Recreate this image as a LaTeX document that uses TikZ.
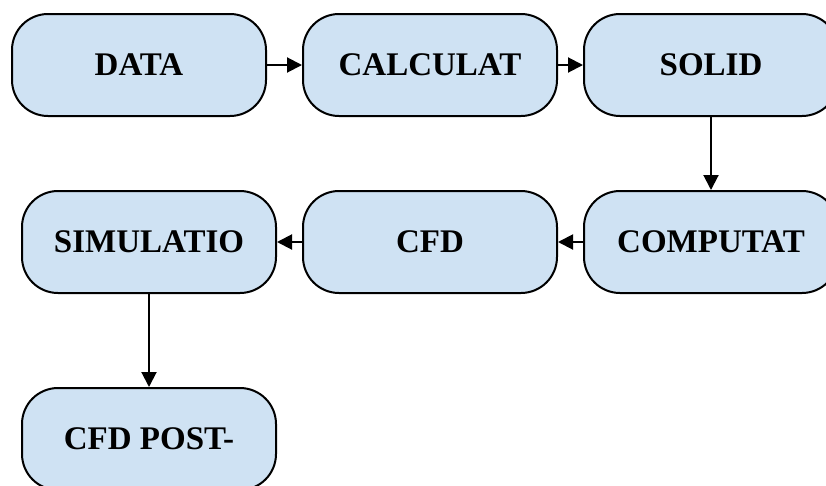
\documentclass[tikz,border=0pt]{standalone}
\usepackage{fontspec}
\setmainfont{Liberation Serif}
\usetikzlibrary{arrows.meta}
\definecolor{boxfill}{RGB}{207,226,243}
\begin{document}
\begin{tikzpicture}[x=1pt,y=-1pt,
  flowbox/.style={draw=black, line width=2pt, fill=boxfill, rounded corners=36pt,
    minimum width=254pt, minimum height=102pt, inner sep=0pt,
    font=\fontsize{33}{38}\selectfont\bfseries},
  flowarrow/.style={draw=black, line width=2pt, -{Triangle[length=15pt,width=15pt]}}]
\useasboundingbox (0,0) rectangle (826,485);
\clip (0,0) rectangle (826,485);
\node[flowbox] (data) at (139,65) {DATA};
\node[flowbox] (calc) at (430,65) {CALCULAT};
\node[flowbox] (solid) at (711,65) {SOLID};
\node[flowbox] (comp) at (711,242) {COMPUTAT};
\node[flowbox] (cfd) at (430,242) {CFD};
\node[flowbox] (sim) at (149,242) {SIMULATIO};
\node[flowbox] (post) at (149,439) {CFD POST-};
\draw[flowarrow] (data.east) -- (calc.west);
\draw[flowarrow] (calc.east) -- (solid.west);
\draw[flowarrow] (solid.south) -- (comp.north);
\draw[flowarrow] (comp.west) -- (cfd.east);
\draw[flowarrow] (cfd.west) -- (sim.east);
\draw[flowarrow] (sim.south) -- (post.north);
\end{tikzpicture}
\end{document}
